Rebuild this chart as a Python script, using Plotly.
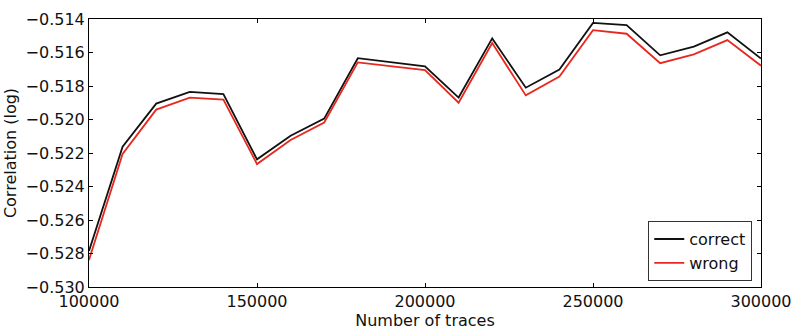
import plotly.graph_objects as go

# Number of traces used for each evaluation
traces = [100000, 110000, 120000, 130000, 140000, 150000, 160000, 170000, 180000,
          190000, 200000, 210000, 220000, 230000, 240000, 250000, 260000, 270000,
          280000, 290000, 300000]

# Correlation (log) for the correct key hypothesis
correct = [-0.52785, -0.52162, -0.51905, -0.51835, -0.51848, -0.52238, -0.52097,
           -0.51995, -0.51634, -0.51659, -0.51683, -0.51869, -0.51516, -0.51810,
           -0.51702, -0.51423, -0.51436, -0.51617, -0.51565, -0.51480, -0.51636]

# Correlation (log) for the wrong key hypothesis
wrong = [-0.52838, -0.52206, -0.51941, -0.51869, -0.51881, -0.52266, -0.52122,
         -0.52018, -0.51659, -0.51683, -0.51705, -0.51900, -0.51543, -0.51856,
         -0.51744, -0.51467, -0.51488, -0.51664, -0.51611, -0.51526, -0.51679]

y_ticks = [-0.530, -0.528, -0.526, -0.524, -0.522, -0.520, -0.518, -0.516, -0.514]
x_ticks = [100000, 150000, 200000, 250000, 300000]

font = "DejaVu Sans, Arial, sans-serif"

fig = go.Figure()
fig.add_trace(go.Scatter(x=traces, y=correct, mode="lines", name="correct",
                         line=dict(color="#111111", width=1.8)))
fig.add_trace(go.Scatter(x=traces, y=wrong, mode="lines", name="wrong",
                         line=dict(color="#e8281e", width=1.8)))

axis_common = dict(
    showgrid=False, zeroline=False, showline=True, linecolor="black", linewidth=1,
    mirror="allticks", ticks="inside", ticklen=4, tickcolor="black", tickwidth=1,
    tickfont=dict(family=font, size=16, color="#111111"),
)

fig.update_layout(
    width=802, height=334,
    margin=dict(l=87, r=35, t=10, b=43),
    paper_bgcolor="white", plot_bgcolor="white",
    font=dict(family=font, size=16, color="#111111"),
    xaxis=dict(range=[100000, 300000], tickvals=x_ticks,
               ticktext=[str(v) for v in x_ticks],
               title=dict(text="Number of traces", standoff=2,
                          font=dict(family=font, size=16)),
               **axis_common),
    yaxis=dict(range=[-0.530, -0.514], tickvals=y_ticks, tickformat=".3f",
               title=dict(text="Correlation (log)", standoff=4,
                          font=dict(family=font, size=16)),
               **axis_common),
    legend=dict(x=0.987, y=0.022, xanchor="right", yanchor="bottom",
                bgcolor="white", bordercolor="#333333", borderwidth=1,
                font=dict(family=font, size=16), itemwidth=30,
                tracegroupgap=0),
    showlegend=True,
)

fig.write_html("out.html")
